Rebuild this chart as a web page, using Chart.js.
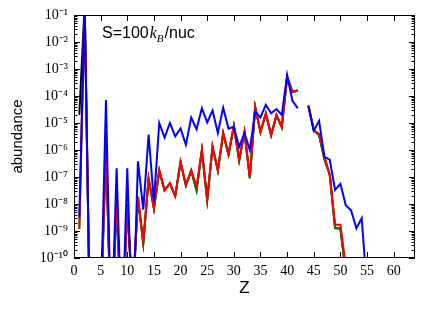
<!DOCTYPE html>
<html>
<head>
<meta charset="utf-8">
<script src="https://cdn.jsdelivr.net/npm/chart.js@4.4.0/dist/chart.umd.min.js"></script>
<style>
  html, body { margin: 0; padding: 0; background: #fff; }
</style>
</head>
<body>
<canvas id="grafico" width="437" height="312"></canvas>
<script>
// ==========================
//  Datos
// ==========================
const Z = [
  1, 2, 3, 4, 5, 6, 7, 8, 9, 10, 11, 12, 13, 14, 15, 16, 17, 18, 19, 20,
  21, 22, 23, 24, 25, 26, 27, 28, 29, 30, 31, 32, 33, 34, 35, 36, 37, 38, 39, 40,
  41, 42, 43, 44, 45, 46, 47, 48, 49, 50, 51, 52, 53, 54, 55,
];

const abundAzul = [
  3.2e-9, 0.25, 4e-13, 1e-14, 1e-12, 7.1e-5, 1e-13, 2.1e-7, 1e-13, 2.1e-7,
  1e-13, 3.8e-7, 6.2e-9, 3.7e-6, 1.2e-8, 1.0e-5, 2.9e-6, 1.0e-5, 3.2e-6, 6.3e-6,
  1.55e-6, 1.6e-5, 5.9e-6, 3.5e-5, 1.05e-5, 2.9e-5, 4.3e-6, 3.7e-5, 6.2e-6, 7.2e-6,
  1.3e-6, 4.2e-6, 1.0e-6, 2.6e-5, 1.6e-5, 4.7e-5, 2.3e-5, 3.3e-5, 2.0e-5, 6.0e-4,
  6.6e-5, 3.5e-5, null, 4.0e-5, 5.2e-6, 1.2e-5, 5.6e-7, 4.4e-7, 3.3e-8, 5.6e-8,
  9.1e-9, 5.9e-9, 1.26e-9, 2.95e-9, 6.3e-12,
];

const abundRojo = [
  1.2e-9, 0.25, 3e-13, 1e-14, 6e-13, 2.0e-6, 1e-13, 1.6e-8, 1e-13, 1.0e-8,
  3e-12, 1.9e-8, 4e-10, 8.9e-8, 6.9e-9, 1.8e-7, 3.3e-8, 5.9e-8, 2.0e-8, 3.7e-7,
  5.0e-8, 1.8e-7, 4.4e-8, 1.0e-6, 1.4e-8, 1.4e-6, 1.8e-7, 4.3e-6, 7.1e-7, 7.9e-6,
  4.3e-7, 4.8e-6, 1.0e-7, 4.0e-5, 4.8e-6, 2.3e-5, 3.6e-6, 2.0e-5, 7.2e-6, 5.2e-4,
  1.45e-4, 1.65e-4, null, 4.5e-5, 5.5e-6, 4.0e-6, 5.6e-7, 1.26e-7, 1.7e-9, 1.7e-9,
  5e-11, 1e-12, 3e-13, 1e-13, 1e-13,
];

const abundVerde = [
  1.2e-9, 0.25, 3e-13, 1e-14, 6e-13, 1.6e-6, 1e-13, 1.3e-8, 1e-13, 9e-9,
  3e-12, 1.6e-8, 3.5e-10, 8.5e-8, 6.9e-9, 1.7e-7, 3.2e-8, 5.7e-8, 2.0e-8, 3.6e-7,
  4.9e-8, 1.7e-7, 3.3e-8, 9.6e-7, 1.4e-8, 1.3e-6, 1.7e-7, 4.1e-6, 6.8e-7, 7.6e-6,
  4.1e-7, 4.6e-6, 9e-8, 3.9e-5, 4.6e-6, 2.2e-5, 3.5e-6, 1.9e-5, 7.0e-6, 5.0e-4,
  1.4e-4, 1.6e-4, null, 4.4e-5, 5.4e-6, 3.6e-6, 5.0e-7, 1.2e-7, 1.26e-9, 1.26e-9,
  3e-11, 1e-12, 3e-13, 1e-13, 1e-13,
];

const abundNegro = [
  2.0e-5, 0.25, 3e-13, 1e-14, 6e-13, 1.6e-6, 1e-13, 1.3e-8, 1e-13, 9e-9,
  3e-12, 1.6e-8, 3.5e-10, 8.5e-8, 6.9e-9, 1.7e-7, 3.2e-8, 5.7e-8, 2.0e-8, 3.6e-7,
  4.9e-8, 1.7e-7, 3.2e-8, 9.6e-7, 1.4e-8, 1.3e-6, 1.7e-7, 4.1e-6, 6.8e-7, 7.6e-6,
  4.1e-7, 4.6e-6, 9e-8, 3.9e-5, 4.6e-6, 2.2e-5, 3.5e-6, 1.9e-5, 7.0e-6, 5.0e-4,
  1.4e-4, 1.6e-4, null, 4.4e-5, 5.4e-6, 3.5e-6, 4.6e-7, 1.2e-7, 1.3e-9, 1.2e-9,
  3e-11, 1e-12, 3e-13, 1e-13, 1e-13,
];

// ticks
const ticksZ = [0, 5, 10, 15, 20, 25, 30, 35, 40, 45, 50, 55, 60];
const exponentesY = [-10, -9, -8, -7, -6, -5, -4, -3, -2, -1];

// ==========================
//  Utilidades
// ==========================
const SUP = { "-": "\u207B", 0: "\u2070", 1: "\u00B9", 2: "\u00B2", 3: "\u00B3", 4: "\u2074",
  5: "\u2075", 6: "\u2076", 7: "\u2077", 8: "\u2078", 9: "\u2079" };

function etiquetaPotencia(v) {
  const e = Math.round(Math.log10(v));
  return "10" + String(e).split("").map((c) => SUP[c]).join("");
}

function serie(valores) {
  return Z.map((z, i) => ({ x: z, y: valores[i] }));
}

// marco + ticks hacia adentro (estilo matplotlib)
const marcoEjes = {
  id: "marcoEjes",
  afterDatasetsDraw(chart) {
    const { ctx, chartArea: a, scales } = chart;
    const sx = scales.x, sy = scales.y;
    ctx.save();
    ctx.strokeStyle = "#000";
    ctx.lineWidth = 1;
    ctx.beginPath();
    // y mayores y menores
    exponentesY.forEach((e) => {
      const py = Math.round(sy.getPixelForValue(Math.pow(10, e))) + 0.5;
      ctx.moveTo(a.left, py); ctx.lineTo(a.left + 6, py);
      ctx.moveTo(a.right, py); ctx.lineTo(a.right - 6, py);
      if (e < -1) {
        for (let m = 2; m <= 9; m++) {
          const pm = Math.round(sy.getPixelForValue(m * Math.pow(10, e))) + 0.5;
          ctx.moveTo(a.left, pm); ctx.lineTo(a.left + 3.5, pm);
          ctx.moveTo(a.right, pm); ctx.lineTo(a.right - 3.5, pm);
        }
      }
    });
    // x mayores
    ticksZ.forEach((t) => {
      const px = Math.round(sx.getPixelForValue(t)) + 0.5;
      ctx.moveTo(px, a.bottom); ctx.lineTo(px, a.bottom - 6);
      ctx.moveTo(px, a.top); ctx.lineTo(px, a.top + 6);
    });
    ctx.stroke();
    ctx.strokeRect(a.left + 0.5, a.top + 0.5, a.width - 1, a.height - 1);

    // texto S=100 k_B/nuc
    ctx.fillStyle = "#000";
    ctx.textBaseline = "alphabetic";
    let x = 102;
    const yb = 38;
    ctx.font = "16px 'Liberation Sans', Arial, sans-serif";
    ctx.fillText("S=100", x, yb);
    x += ctx.measureText("S=100").width + 1;
    ctx.font = "italic 16px 'Liberation Serif', serif";
    ctx.fillText("k", x, yb);
    x += ctx.measureText("k").width;
    ctx.font = "italic 11px 'Liberation Serif', serif";
    ctx.fillText("B", x, yb + 4);
    x += ctx.measureText("B").width + 1;
    ctx.font = "16px 'Liberation Sans', Arial, sans-serif";
    ctx.fillText("/nuc", x, yb);
    ctx.restore();
  },
};

// ==========================
//  Grafico
// ==========================
const ctx = document.getElementById("grafico").getContext("2d");
const comun = { borderWidth: 2, pointRadius: 0, tension: 0, spanGaps: false, clip: 0, fill: false };

new Chart(ctx, {
  type: "line",
  data: {
    datasets: [
      { ...comun, label: "azul", data: serie(abundAzul), borderColor: "#0000ff" },
      { ...comun, label: "rojo", data: serie(abundRojo), borderColor: "#ff0000" },
      { ...comun, label: "verde", data: serie(abundVerde), borderColor: "#008000" },
      { ...comun, label: "negro", data: serie(abundNegro), borderColor: "#000000" },
    ],
  },
  options: {
    responsive: false,
    devicePixelRatio: 1,
    animation: false,
    parsing: true,
    layout: { padding: { left: 0, right: 22, top: 15, bottom: 0 } },
    plugins: { legend: { display: false }, tooltip: { enabled: false } },
    scales: {
      x: {
        type: "linear",
        min: 0,
        max: 64,
        grid: { display: false, drawTicks: false },
        border: { display: false },
        afterBuildTicks: (s) => { s.ticks = ticksZ.map((v) => ({ value: v })); },
        afterFit: (s) => { s.height = 54; },
        ticks: {
          padding: 5,
          maxRotation: 0,
          color: "#000",
          font: { family: "'Liberation Serif', serif", size: 14 },
        },
        title: {
          display: true,
          text: "Z",
          color: "#000",
          font: { family: "'Liberation Sans', Arial, sans-serif", size: 17 },
          padding: { top: 0, bottom: 13 },
        },
      },
      y: {
        type: "logarithmic",
        min: 1e-10,
        max: 1e-1,
        grid: { display: false, drawTicks: false },
        border: { display: false },
        afterBuildTicks: (s) => { s.ticks = exponentesY.map((e) => ({ value: Math.pow(10, e) })); },
        afterFit: (s) => { s.width = 74; },
        ticks: {
          padding: 6,
          color: "#000",
          font: { family: "'Liberation Serif', serif", size: 14 },
          callback: (v) => etiquetaPotencia(v),
        },
        title: {
          display: true,
          text: "abundance",
          color: "#000",
          font: { family: "'Liberation Sans', Arial, sans-serif", size: 15 },
          padding: { top: 9, bottom: 0 },
        },
      },
    },
  },
  plugins: [marcoEjes],
});
</script>
</body>
</html>
